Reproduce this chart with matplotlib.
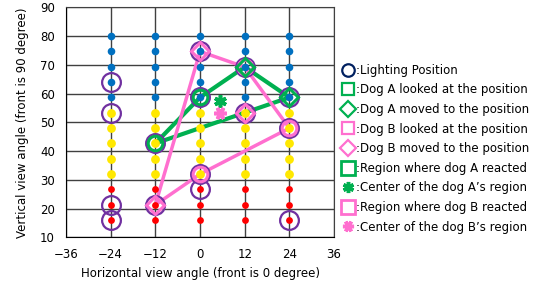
import numpy as np
import matplotlib.pyplot as plt
from matplotlib.lines import Line2D

# measurement grid (dots)
cols = [-24, -12, 0, 12, 24]
red_y = [16, 21.3, 26.7]
yellow_y = [32, 37.3, 42.7, 48, 53.3]
blue_y = [58.7, 64, 69.3, 74.7, 80]

# lighting positions
light_x = [-24, -24, -24, -24, -12, -12, 0, 0, 0, 0, 12, 12, 24, 24, 24]
light_y = [64, 53.3, 21.3, 16, 42.7, 21.3, 74.7, 58.7, 32, 26.7, 69.3, 53.3, 58.7, 48, 16]

# dog A
a_look_x = [-12, 0]
a_look_y = [42.7, 58.7]
a_move_x = [12, 24]
a_move_y = [69.3, 58.7]
a_reg_x = [-12, 0, 12, 24, -12]
a_reg_y = [42.7, 58.7, 69.3, 58.7, 42.7]
a_cen = (5.5, 57.5)

# dog B
b_look_x = [12, 0, 24]
b_look_y = [69.3, 32, 48]
b_move_x = [0, 12, -12]
b_move_y = [74.7, 53.3, 21.3]
b_reg_x = [0, 12, 24, 0, -12, 0]
b_reg_y = [74.7, 69.3, 48, 32, 21.3, 74.7]
b_cen = (5.5, 53.2)

green = '#00B050'
pink = '#FF6FCF'
purple = '#7030A0'
navy = '#002060'

fig = plt.figure(figsize=(5.42, 2.83), dpi=100)
ax = fig.add_axes([0.1218, 0.1615, 0.4945, 0.812])

ax.set_xlim(-36, 36)
ax.set_ylim(10, 90)
ax.set_xticks(np.arange(-36, 37, 12))
ax.set_yticks(np.arange(10, 91, 10))
ax.grid(True, color='#404040', lw=1)
ax.set_axisbelow(True)
ax.tick_params(length=0, labelsize=8.5, pad=8)
for s in ax.spines.values():
    s.set_color('#404040')
ax.spines['left'].set_color('black')
ax.spines['bottom'].set_color('black')

ax.plot(a_reg_x, a_reg_y, color=green, lw=3, zorder=3)
ax.plot(b_reg_x, b_reg_y, color=pink, lw=2.5, zorder=3)

for c in cols:
    ax.scatter([c] * len(red_y), red_y, s=24, color='#FF0000', zorder=4, linewidths=0)
    ax.scatter([c] * len(yellow_y), yellow_y, s=40, color='#FFE800', zorder=4, linewidths=0)
    ax.scatter([c] * len(blue_y), blue_y, s=30, color='#0070C0', zorder=4, linewidths=0)

ax.plot(light_x, light_y, 'o', ms=13.5, mfc='none', mec=purple, mew=1.6, zorder=5)
ax.plot(a_look_x, a_look_y, 'o', ms=10.5, mfc='none', mec=green, mew=2.2, zorder=6)
ax.plot(b_look_x, b_look_y, 'o', ms=10.5, mfc='none', mec=pink, mew=2.2, zorder=6)
ax.plot(a_move_x, a_move_y, 'D', ms=9, mfc='none', mec=green, mew=2.2, zorder=7)
ax.plot(b_move_x, b_move_y, 'D', ms=9, mfc='none', mec=pink, mew=2.2, zorder=7)
ax.plot(*a_cen, marker=(6, 2, 0), ms=9, mec=green, mew=2.6, ls='none', zorder=7)
ax.plot(*b_cen, marker=(6, 2, 90), ms=9, mec=pink, mew=2.6, ls='none', zorder=7)

ax.set_xlabel('Horizontal view angle (front is 0 degree)', fontsize=8.5, labelpad=4)
ax.set_ylabel('Vertical view angle (front is 90 degree)', fontsize=8.5, labelpad=8)

handles = [
    Line2D([], [], ls='none', marker='o', ms=9, mfc='none', mec=navy, mew=1.6),
    Line2D([], [], ls='none', marker='s', ms=8, mfc='none', mec=green, mew=1.6),
    Line2D([], [], ls='none', marker='D', ms=8, mfc='none', mec=green, mew=1.6),
    Line2D([], [], ls='none', marker='s', ms=8, mfc='none', mec=pink, mew=1.6),
    Line2D([], [], ls='none', marker='D', ms=8, mfc='none', mec=pink, mew=1.6),
    Line2D([], [], ls='none', marker='s', ms=10, mfc='none', mec=green, mew=2),
    Line2D([], [], ls='none', marker=(6, 2, 0), ms=8, mec=green, mew=2.5),
    Line2D([], [], ls='none', marker='s', ms=10, mfc='none', mec=pink, mew=2),
    Line2D([], [], ls='none', marker=(6, 2, 90), ms=8, mec=pink, mew=2.5),
]
labels = [
    ':Lighting Position',
    ':Dog A looked at the position',
    ':Dog A moved to the position',
    ':Dog B looked at the position',
    ':Dog B moved to the position',
    ':Region where dog A reacted',
    ':Center of the dog A\u2019s region',
    ':Region where dog B reacted',
    ':Center of the dog B\u2019s region',
]
fig.legend(handles, labels, loc='upper left', bbox_to_anchor=(0.632, 0.775),
           frameon=False, fontsize=8.5, handlelength=1.0, handletextpad=0.1,
           labelspacing=0.56, borderpad=0, borderaxespad=0)

fig.savefig('out.png', dpi=100)
